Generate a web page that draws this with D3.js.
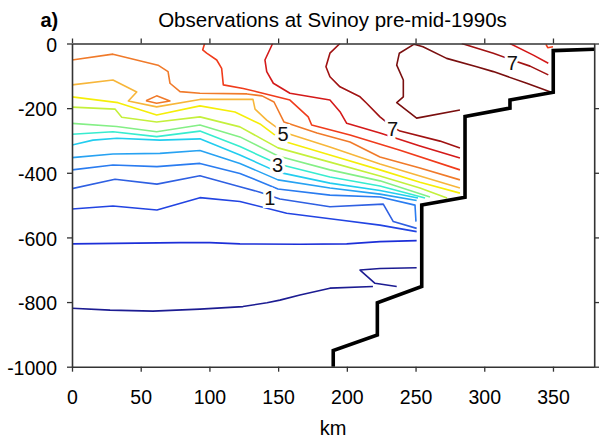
<!DOCTYPE html>
<html><head><meta charset="utf-8">
<script src="https://cdn.jsdelivr.net/npm/d3@7"></script>
<style>body{margin:0;background:#fff} svg{display:block} text{font-family:"Liberation Sans",Arial,Helvetica,sans-serif}</style>
</head><body><svg id="c" width="599" height="444"></svg>
<script>
// ---- axis ticks ----
const xTicks = [0, 50, 100, 150, 200, 250, 300, 350];
const yTicks = [0, -200, -400, -600, -800, -1000];

// ---- contour levels (deg C) and colours ----
const levels = [-0.5, 0, 0.5, 1, 1.5, 2, 2.5, 3, 3.5, 4, 4.5, 5, 5.5, 6, 6.5, 7, 7.5];
const levelColors = ["#1c1c92", "#1c2fd8", "#2244e2", "#2f60e2", "#2a7cf0", "#27a2f2", "#22cdef",
  "#38eccf", "#84ef86", "#c4f03c", "#f5ee08", "#f7b63a", "#f07a2a", "#f03c1c", "#d41a1a", "#a01212", "#7a0f0f"];

// ---- contour lines: [km, depth m] ----
const cNeg05a = [[0,-819],[27.7,-825],[58.9,-828],[93.1,-822],[124.4,-814],[141.9,-802],[151.3,-794],[165.9,-778],[187.7,-757],[219,-752]];
const cNeg05b = [[236.3,-752],[220.5,-742],[209.6,-701],[224.1,-696],[250.8,-694]];
const c00 = [[0,-620],[78.6,-616],[100.4,-616],[122.2,-620],[165.9,-621],[199.9,-620],[224.1,-613],[250.8,-610]];
const c05 = [[0,-512],[29.8,-503],[61.8,-515],[93.1,-477],[122.2,-489],[156.2,-525],[195,-546],[224.1,-562],[250.8,-582]];
const c10 = [[0,-449],[31.3,-420],[61.8,-435],[93.1,-409],[122.2,-443],[136.8,-460],[151.3,-481],[187.7,-505],[226.5,-497],[233.8,-551],[250.8,-572]];
const c15 = [[0,-391],[29.8,-376],[61.8,-381],[93.1,-371],[122.2,-402],[149.9,-450],[187.7,-469],[224.1,-475],[249.6,-500],[250.3,-551]];
const c20 = [[0,-353],[29.8,-342],[64,-340],[93.1,-331],[122.2,-371],[149.9,-422],[187.7,-447],[224.1,-466],[250.8,-486]];
const c25 = [[0,-314],[15.3,-299],[32.7,-293],[64,-299],[93.1,-295],[122.2,-345],[149.9,-398],[187.7,-432],[224.1,-455],[251.8,-478]];
const c30 = [[0,-281],[29.8,-273],[61.6,-288],[93.1,-271],[122.2,-319],[149.9,-373],[187.7,-413],[224.1,-441],[256.9,-478]];
const c35 = [[0,-247],[32.5,-257],[61.6,-273],[93.1,-252],[122.2,-289],[149.9,-348],[187.7,-391],[224.1,-425],[260.5,-475]];
const c40 = [[0,-197],[31.3,-203],[36.2,-228],[61.6,-243],[93.1,-227],[122.2,-258],[149.9,-323],[187.7,-367],[224.1,-410],[253.2,-447],[272.9,-478]];
const c45 = [[0,-165],[33.5,-183],[61.6,-221],[93.1,-193],[118.6,-212],[136.8,-249],[153.5,-302],[187.7,-345],[224.1,-391],[253.2,-429],[282.3,-463]];
const c50 = [[0,-128],[29.8,-113],[47.1,-150],[41,-178],[61.6,-196],[93.1,-173],[131.7,-173],[133.2,-203],[141.7,-237],[153.5,-274],[187.7,-320],[224.1,-373],[253.2,-410],[282.3,-447]];
const c55 = [[0,-51],[29.8,-33],[62.6,-67],[69.9,-87],[71.3,-123],[78.6,-149],[93.1,-154],[127.3,-156],[138.3,-162],[147,-181],[154.3,-243],[178.3,-277],[202.3,-305],[224.1,-351],[253.2,-385],[282.3,-422]];
const c55loop = [[53.8,-177],[61.6,-162],[71.3,-178],[61.6,-185],[53.8,-177]];
const c60 = [[96.5,0],[95.1,-20],[98,-30],[105.3,-51],[108.9,-77],[110.1,-128],[124.6,-139],[134.4,-149],[158.6,-175],[171.9,-227],[174.4,-252],[202.3,-283],[238.7,-330],[282.3,-391]];
const c60tiny = [[344.9,-3],[346.2,-13],[350,-10]];
const c65 = [[146,0],[140.4,-51],[141.7,-87],[146.5,-123],[158.6,-154],[187.7,-175],[195,-211],[199.9,-247],[224.1,-277],[253.2,-317],[282.3,-354]];
const c65b = [[318.7,0],[335.7,-36],[346.6,-61]];
const c70 = [[195,0],[187.7,-30],[184.8,-72],[187.7,-103],[195,-134],[209.6,-165],[214.4,-185],[224.1,-227],[233.2,-258],[238.7,-271],[267.8,-302],[282.3,-323]];
const c70b = [[283.6,0],[306.6,-30],[320.2,-51],[333.3,-70],[346.6,-97]];
const c75 = [[282.3,-206],[250.8,-231],[236.3,-183],[241.1,-165],[241.1,-113],[236.3,-67],[238.2,-30],[249,-2],[255.4,-10],[272.6,-46],[294.5,-72],[306.6,-87],[330.9,-123],[347.8,-149]];

const contours = [
  {level: -0.5, pts: cNeg05a}, {level: -0.5, pts: cNeg05b}, {level: 0, pts: c00}, {level: 0.5, pts: c05},
  {level: 1, pts: c10}, {level: 1.5, pts: c15}, {level: 2, pts: c20}, {level: 2.5, pts: c25},
  {level: 3, pts: c30}, {level: 3.5, pts: c35}, {level: 4, pts: c40}, {level: 4.5, pts: c45},
  {level: 5, pts: c50}, {level: 5.5, pts: c55}, {level: 5.5, pts: c55loop}, {level: 6, pts: c60},
  {level: 6, pts: c60tiny}, {level: 6.5, pts: c65}, {level: 6.5, pts: c65b}, {level: 7, pts: c70},
  {level: 7, pts: c70b}, {level: 7.5, pts: c75}
];

// ---- contour labels ----
const labelText = ["1", "3", "5", "7", "7"];
const labelKm = [144, 149.5, 153.5, 233.2, 320.5];
const labelDepth = [-479, -377, -280, -264, -59];

// ---- bottom topography ----
const bottom = [[190.1,-1000],[190.1,-950],[222.2,-902],[222.2,-802],[254.5,-752],[254.5,-500],[286,-476],[286,-226],[318.7,-200],[318.7,-175],[350.2,-151],[350.2,-22],[380,-18]];

// ---- drawing ----
const svg = d3.select("#c");
const x = d3.scaleLinear().domain([0, 380]).range([72, 594.2]);
const y = d3.scaleLinear().domain([0, -1000]).range([43.5, 366.7]);
const color = d3.scaleOrdinal().domain(levels).range(levelColors);

svg.append("defs").append("clipPath").attr("id", "clip")
  .append("rect").attr("x", x(0)).attr("y", y(0)).attr("width", x(380) - x(0)).attr("height", y(-1000) - y(0));

const line = d3.line().x(d => x(d[0])).y(d => y(d[1]));
const g = svg.append("g").attr("clip-path", "url(#clip)");
g.selectAll("path.c").data(contours).join("path").attr("class", "c")
  .attr("d", d => line(d.pts)).attr("fill", "none")
  .attr("stroke", d => color(d.level)).attr("stroke-width", 1.6).attr("stroke-linejoin", "round");

g.selectAll("text.lab").data(labelText).join("text").attr("class", "lab")
  .attr("x", (d, i) => x(labelKm[i])).attr("y", (d, i) => y(labelDepth[i]))
  .attr("text-anchor", "middle").attr("dominant-baseline", "central")
  .attr("font-size", 20).attr("fill", "#111")
  .attr("stroke", "#fff").attr("stroke-width", 6).attr("paint-order", "stroke")
  .text(d => d);

svg.append("path").attr("d", line(bottom)).attr("fill", "none")
  .attr("stroke", "#000").attr("stroke-width", 3.6).attr("stroke-linejoin", "miter");

const fmt = d => String(d);
function styleAxis(sel) {
  sel.attr("font-family", null).attr("font-size", null);
  sel.select(".domain").attr("stroke", "#333").attr("stroke-width", 1.6);
  sel.selectAll(".tick line").attr("stroke", "#333").attr("stroke-width", 1.3);
  sel.selectAll(".tick text").attr("fill", "#000").style("font-size", "19.5px");
}
svg.append("g").attr("transform", `translate(0,${y(-1000)})`)
  .call(d3.axisBottom(x).tickValues(xTicks).tickSize(5).tickPadding(18).tickFormat(fmt).tickSizeOuter(0)).call(styleAxis);
svg.append("g").attr("transform", `translate(0,${y(0)})`)
  .call(d3.axisTop(x).tickValues(xTicks).tickSize(5).tickFormat("").tickSizeOuter(0)).call(styleAxis);
svg.append("g").attr("transform", `translate(${x(0)},0)`)
  .call(d3.axisLeft(y).tickValues(yTicks).tickSize(5).tickPadding(10).tickFormat(fmt).tickSizeOuter(0)).call(styleAxis);
svg.selectAll("g").filter(function(){ return this.getAttribute("transform") === `translate(${x(0)},0)`; })
  .selectAll(".tick text").attr("dy", "0.4em");
svg.append("g").attr("transform", `translate(${x(380)},0)`)
  .call(d3.axisRight(y).tickValues(yTicks).tickSize(5).tickFormat("").tickSizeOuter(0)).call(styleAxis);

svg.append("text").attr("x", (x(0) + x(380)) / 2).attr("y", 435).attr("text-anchor", "middle")
  .attr("font-size", 20).attr("fill", "#000").text("km");
svg.append("text").attr("x", 332.5).attr("y", 26.7).attr("text-anchor", "middle")
  .attr("font-size", 20.5).attr("fill", "#000").text("Observations at Svinoy pre-mid-1990s");
svg.append("text").attr("x", 40.5).attr("y", 26.5).attr("font-size", 20).attr("font-weight", "bold")
  .attr("fill", "#000").text("a)");
</script></body></html>
